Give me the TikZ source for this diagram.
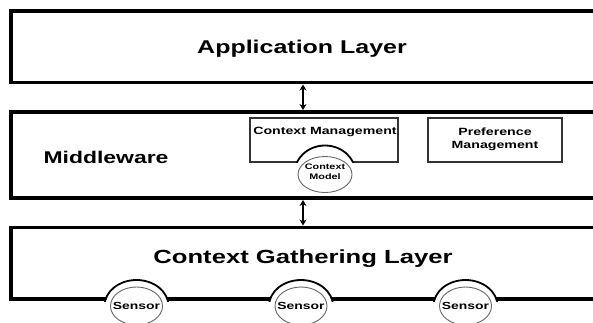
\documentclass[tikz,border=0pt]{standalone}
\usepackage{fontspec}
\setmainfont[FakeStretch=1.35]{Liberation Sans}
\usetikzlibrary{arrows.meta}
\tikzset{
  layer/.style={draw=black, line width=3.5pt, fill=white},
  inbox/.style={draw=black!80, line width=1.2pt, fill=white},
  lbl/.style={font=\bfseries, inner sep=0pt},
  link/.style={line width=1.6pt, {Stealth[length=6pt,width=7pt]}-{Stealth[length=6pt,width=7pt]}},
  bump/.style={draw=black, line width=1.8pt, fill=white},
  core/.style={draw=black!60, line width=0.9pt, fill=white},
}
\begin{document}
\begin{tikzpicture}[x=1pt,y=-1pt]
\useasboundingbox (0,0) rectangle (593,322);
\fill[white] (0,0) rectangle (593,322);
% layers
\draw[layer] (11,11) rectangle (610,82.5);
\node[lbl, font=\bfseries\fontsize{18.5}{20}\selectfont] (app) at (302,49) {Application Layer};
\draw[layer] (11,112) rectangle (610,198);
\node[lbl, font=\bfseries\fontsize{17}{19}\selectfont] (mw) at (106,157) {Middleware};
\draw[layer] (11,227.5) rectangle (610,299);
\node[lbl, font=\bfseries\fontsize{19}{21}\selectfont] (cg) at (303,259) {Context Gathering Layer};
% connectors
\coordinate (a1) at (303,84.5);
\coordinate (a2) at (303,110);
\coordinate (b1) at (303,200);
\coordinate (b2) at (303,225.5);
\draw[link] (a1) -- (a2);
\draw[link] (b1) -- (b2);
% inner boxes
\draw[inbox] (250,118) rectangle (398,162);
\node[lbl, font=\bfseries\fontsize{10.5}{12}\selectfont] (cm) at (325,132) {Context Management};
\draw[inbox] (428,118) rectangle (562,162);
\node[lbl, font=\bfseries\fontsize{10.5}{13}\selectfont, align=center] (pm) at (495,139) {Preference\\Management};
% context model
\begin{scope}
\clip (0,0) rectangle (593,162.8);
\draw[bump] (325,174.5) ellipse [x radius=31, y radius=29];
\end{scope}
\fill[white] (294,193.6) rectangle (358,196.4);
\draw[core] (325,174.5) ellipse [x radius=27, y radius=18];
\node[lbl, font=\bfseries\fontsize{8}{10}\selectfont, align=center] (model) at (325,172) {Context\\Model};
% sensors
\foreach \sx/\nm in {136.5/s1, 301/s2, 465.5/s3}{
  \begin{scope}
  \clip (0,0) rectangle (593,301);
  \draw[bump] (\sx,306) ellipse [x radius=32, y radius=26];
  \end{scope}
  \draw[core] (\sx,306) ellipse [x radius=26, y radius=19];
  \node[lbl, font=\bfseries\fontsize{10.3}{12}\selectfont] (\nm) at (\sx,305.5) {Sensor};
}
\end{tikzpicture}
\end{document}
